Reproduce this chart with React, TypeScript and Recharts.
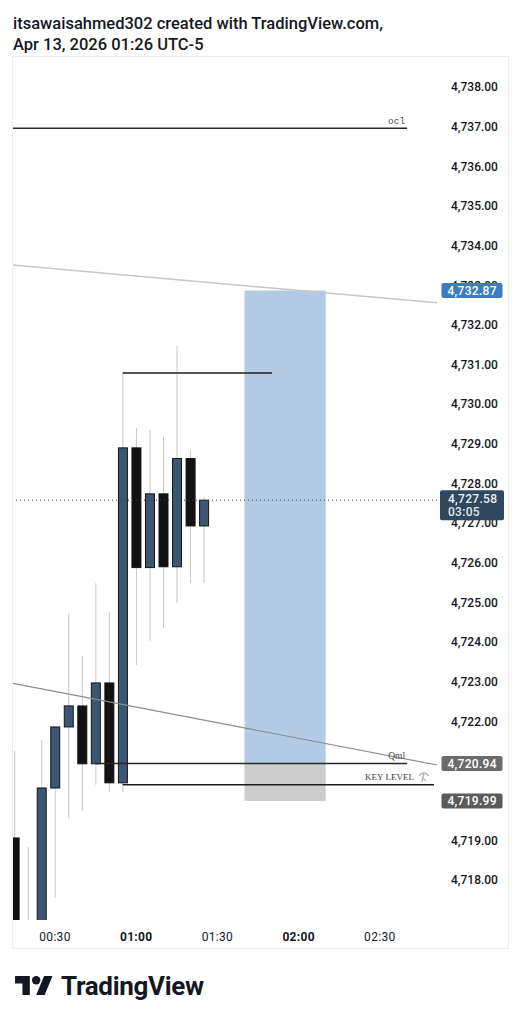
import React from "react";
import { ComposedChart, Bar, XAxis, YAxis, ReferenceLine, ReferenceArea } from "recharts";

// 5-minute candles, time in minutes after 00:00
const times = [15, 20, 25, 30, 35, 40, 45, 50, 55, 60, 65, 70, 75, 80, 85];
const opens = [4719.06, 4716.1, 4716.6, 4720.32, 4721.86, 4722.39, 4720.93, 4722.97, 4720.45, 4728.9, 4725.88, 4727.74, 4725.9, 4728.63, 4726.93];
const highs = [4721.25, 4718.83, 4721.53, 4721.86, 4724.73, 4723.65, 4725.49, 4724.76, 4730.79, 4729.4, 4729.35, 4729.18, 4731.47, 4728.84, 4727.65];
const lows = [4715.6, 4715.9, 4716.2, 4717.55, 4719.54, 4719.74, 4720.4, 4720.22, 4720.22, 4723.42, 4724.03, 4724.36, 4724.99, 4725.49, 4725.49];
const closes = [4716.1, 4716.6, 4720.32, 4721.86, 4722.39, 4720.93, 4722.97, 4720.45, 4728.9, 4725.88, 4727.74, 4725.9, 4728.63, 4726.93, 4727.58];

// 4,720 and 4,721 sit under the position tags, so the scale leaves them out
const priceTicks = [4718, 4719, 4722, 4723, 4724, 4725, 4726, 4727, 4728, 4729, 4730, 4731, 4732, 4733, 4734, 4735, 4736, 4737, 4738];
const timeTicks = [30, 60, 90, 120, 150];
const timeLabels = ["00:30", "01:00", "01:30", "02:00", "02:30"];
const boldTimes = [60, 120];

const lastPrice = 4727.58;
const countdown = "03:05";
const targetPrice = 4732.87;
const entryPrice = 4720.94;
const stopPrice = 4719.99;
const positionStart = 100;
const positionEnd = 130;

const oclLevel = 4736.96;
const swingHigh = 4730.79;
const keyLevel = 4720.4;
const upperTrend = [4733.51, 4732.56];
const lowerTrend = [4722.96, 4720.9];

const X_MIN = 14.48;
const X_MAX = 171.13;
const Y_MIN = 4716.99;
const Y_MAX = 4738.76;

const candles = times.map((t, i) => ({
  t,
  open: opens[i],
  high: highs[i],
  low: lows[i],
  close: closes[i],
  range: [lows[i], highs[i]],
}));

const fmtPrice = (v: number) =>
  v.toLocaleString("en-US", { minimumFractionDigits: 2, maximumFractionDigits: 2 });

const Candle = (props: any) => {
  const { x, y, width, height, payload } = props;
  const { open, close, high, low } = payload;
  const cx = x + width / 2;
  const k = height / (high - low);
  const yO = y + (high - open) * k;
  const yC = y + (high - close) * k;
  const top = Math.min(yO, yC);
  const h = Math.max(Math.abs(yO - yC), 1);
  const up = close >= open;
  return (
    <g>
      <line x1={cx} x2={cx} y1={y} y2={y + height} stroke="#c8c8c8" strokeWidth={1} />
      <rect x={cx - 4.5} y={top} width={9} height={h} fill={up ? "#3b5673" : "#121212"} stroke="#161616" strokeWidth={1} />
    </g>
  );
};

const PriceTick = ({ x, y, payload }: any) => (
  <text x={x} y={y} dy={4.2} fill="#131722" fontSize={12} fontFamily="Roboto" fontWeight={500} textAnchor="start">
    {fmtPrice(payload.value)}
  </text>
);

const TimeTick = ({ x, y, payload }: any) => {
  const i = timeTicks.indexOf(payload.value);
  return (
    <text x={x} y={y} dy={21} fill="#131722" fontSize={12} fontFamily="Roboto" textAnchor="middle"
      fontWeight={boldTimes.includes(payload.value) ? 700 : 400} letterSpacing={0.3}>
      {timeLabels[i]}
    </text>
  );
};

const axisTag = (text: string, fill: string) => (props: any) => {
  const vb = props.viewBox;
  const x = vb.x + vb.width + 4.5;
  return (
    <g>
      <rect x={x} y={vb.y - 7.5} width={61} height={15} rx={2} fill={fill} />
      <text x={x + 6} y={vb.y + 4.3} fill="#ffffff" fontSize={12} fontFamily="Roboto" fontWeight={500} letterSpacing={0.3}>
        {text}
      </text>
    </g>
  );
};

const lastTag = (props: any) => {
  const vb = props.viewBox;
  const x = vb.x + vb.width + 3;
  return (
    <g>
      <rect x={x} y={vb.y - 10} width={64} height={30} rx={2} fill="#2f475f" />
      <text x={x + 8} y={vb.y + 2.5} fill="#eef2f6" fontSize={12} fontFamily="Roboto" fontWeight={500} letterSpacing={0.3}>
        {fmtPrice(lastPrice)}
      </text>
      <text x={x + 8} y={vb.y + 16} fill="#dfe5ec" fontSize={12} fontFamily="Roboto" fontWeight={500} letterSpacing={0.3}>
        {countdown}
      </text>
    </g>
  );
};

const lineText = (text: string, family: string, dy: number) => (props: any) => {
  const vb = props.viewBox;
  return (
    <text x={vb.x + vb.width - 2} y={vb.y + dy} textAnchor="end" fill="#4a4a4a" fontSize={9.5} fontFamily={family}>
      {text}
    </text>
  );
};

const keyLevelText = (props: any) => {
  const vb = props.viewBox;
  const x = vb.x + vb.width;
  return (
    <g>
      <text x={x - 20} y={vb.y - 5} textAnchor="end" fill="#3a3a3a" fontSize={9} fontFamily="Liberation Serif">
        KEY LEVEL
      </text>
      <path d={`M${x - 15} ${vb.y - 9} q5 -6 10 0 M${x - 10} ${vb.y - 12} l-2 9 M${x - 12} ${vb.y - 8} l4 4`}
        stroke="#b0b0b0" strokeWidth={1.2} fill="none" />
    </g>
  );
};

export default function App() {
  return (
    <div style={{ position: "absolute", left: 0, top: 0, width: 521, height: 1024, background: "#ffffff", fontFamily: "Roboto" }}>
      <div style={{ position: "absolute", left: 13, top: 13, fontSize: 16.5, lineHeight: "21px", fontWeight: 500, color: "#131722" }}>
        <div>itsawaisahmed302 created with TradingView.com,</div>
        <div>Apr 13, 2026 01:26 UTC-5</div>
      </div>

      <div style={{ position: "absolute", left: 12, top: 56, width: 495, height: 891, border: "1px solid #eeeeee" }}>
        <ComposedChart width={495} height={891} data={candles} margin={{ top: 0, right: 0, bottom: 0, left: 0 }}>
          <XAxis dataKey="t" type="number" domain={[X_MIN, X_MAX]} allowDataOverflow ticks={timeTicks} interval={0}
            height={28} axisLine={false} tickLine={false} tickSize={0} tickMargin={0} tick={<TimeTick />} />
          <YAxis orientation="right" type="number" domain={[Y_MIN, Y_MAX]} allowDataOverflow ticks={priceTicks} interval={0}
            width={71} axisLine={false} tickLine={false} tickSize={0} tickMargin={14} tick={<PriceTick />} />

          <ReferenceArea x1={positionStart} x2={positionEnd} y1={entryPrice} y2={targetPrice} fill="#b3cae4" fillOpacity={1} stroke="none" />
          <ReferenceArea x1={positionStart} x2={positionEnd} y1={stopPrice} y2={entryPrice} fill="#cdcdcd" fillOpacity={1} stroke="none" />

          <ReferenceLine ifOverflow="visible" segment={[{ x: X_MIN, y: upperTrend[0] }, { x: X_MAX, y: upperTrend[1] }]} stroke="#c6c6c6" strokeWidth={1.5} />
          <ReferenceLine ifOverflow="visible" segment={[{ x: X_MIN, y: lowerTrend[0] }, { x: X_MAX, y: lowerTrend[1] }]} stroke="#8c8c8c" strokeWidth={1.2} />

          <Bar dataKey="range" barSize={10} shape={<Candle />} isAnimationActive={false} />

          <ReferenceLine ifOverflow="visible" segment={[{ x: X_MIN, y: oclLevel }, { x: 160.1, y: oclLevel }]} stroke="#262626" strokeWidth={1.5}
            label={lineText("ocl", "Liberation Mono", -4)} />
          <ReferenceLine ifOverflow="visible" segment={[{ x: 55, y: swingHigh }, { x: 110.2, y: swingHigh }]} stroke="#1c1c1c" strokeWidth={1.5} />
          <ReferenceLine ifOverflow="visible" segment={[{ x: 45, y: entryPrice }, { x: 160.1, y: entryPrice }]} stroke="#262626" strokeWidth={1.5}
            label={lineText("Qml", "Liberation Serif", -4)} />
          <ReferenceLine ifOverflow="visible" segment={[{ x: 55, y: keyLevel }, { x: 170.0, y: keyLevel }]} stroke="#1c1c1c" strokeWidth={1.5}
            label={keyLevelText} />

          <ReferenceLine y={lastPrice} stroke="#3a3a3a" strokeDasharray="1 3" strokeWidth={1} label={lastTag} zIndex={3000} />
          <ReferenceLine y={targetPrice} stroke="none" label={axisTag(fmtPrice(targetPrice), "#3d7cc4")} zIndex={3000} />
          <ReferenceLine y={entryPrice} stroke="none" label={axisTag(fmtPrice(entryPrice), "#6b6b6b")} zIndex={3000} />
          <ReferenceLine y={stopPrice} stroke="none" label={axisTag(fmtPrice(stopPrice), "#5b5b5b")} zIndex={3000} />
        </ComposedChart>
      </div>

      <svg style={{ position: "absolute", left: 0, top: 960 }} width={240} height={50}>
        <svg x={15} y={16} width={37.6} height={19} viewBox="0 4 35.5 18">
          <path d="M14 22H7V11H0V4h14v18zM28 22h-8l7.5-18h8L28 22z" fill="#131722" />
          <circle cx={20} cy={8} r={4} fill="#131722" />
        </svg>
        <text x={61} y={35} fontSize={26} fontFamily="Roboto" fontWeight={700} fill="#131722" letterSpacing={-0.3}>
          TradingView
        </text>
      </svg>
    </div>
  );
}
